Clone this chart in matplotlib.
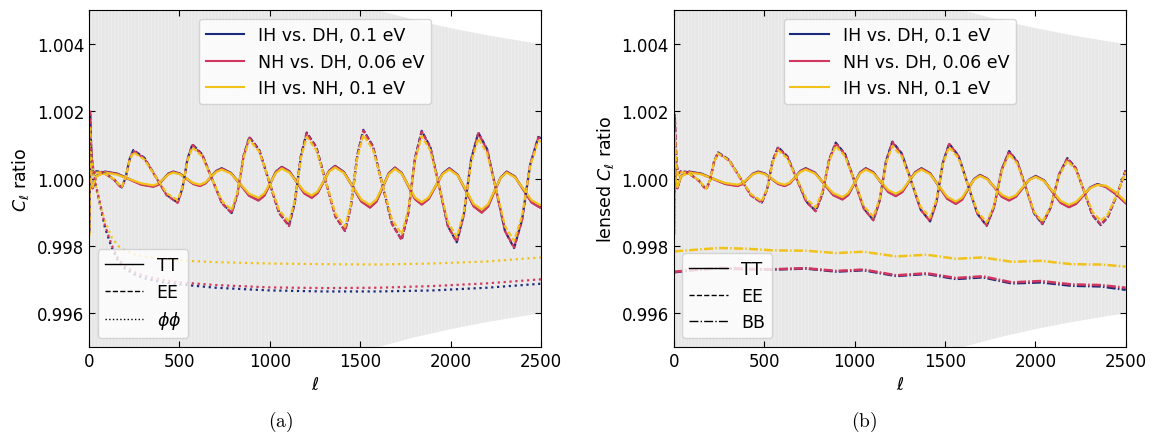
#cl ratio plots, unlensed (a) and lensed (b)
import matplotlib
matplotlib.use('Agg')
import matplotlib.pyplot as plt
from matplotlib.lines import Line2D
from matplotlib.ticker import FormatStrFormatter

labels = ['IH vs. DH, 0.1 eV', 'NH vs. DH, 0.06 eV', 'IH vs. NH, 0.1 eV']
colors = ['#1c2a7c', '#d2365e', '#f0c21a']

#gray band (half width around 1)
l_band = [2, 200, 400, 800, 1200, 1600, 1800, 2000, 2200, 2400, 2500]
band_half = [0.1414, 0.01414, 0.0100, 0.00707, 0.00577, 0.00500, 0.00471, 0.00447, 0.00426, 0.00408, 0.00400]

#panel (a) EE
l_ee_a = [2, 6, 10, 16, 25, 40, 70, 100, 140, 165, 181, 202, 224, 245, 306, 368, 429, 490, 517, 545, 572,
          626, 680, 735, 789, 821, 855, 887, 942, 996, 1051, 1106, 1138, 1172, 1204, 1257, 1310, 1363, 1416,
          1449, 1484, 1517, 1570, 1623, 1676, 1729, 1766, 1803, 1840, 1888, 1937, 1985, 2034, 2073, 2113,
          2153, 2202, 2252, 2301, 2351, 2395, 2440, 2485, 2500]
ee_a_ih_dh = [0.99840, 1.00195, 1.00120, 1.00045, 1.00015, 1.00022, 1.00020, 1.00012, 0.99997, 0.99981,
              0.99974, 1.00002, 1.00057, 1.00085, 1.00062, 1.00007, 0.99952, 0.99929, 0.99972, 1.00059, 1.00102,
              1.00072, 1.00000, 0.99928, 0.99898, 0.99955, 1.00068, 1.00124, 1.00085, 0.99992, 0.99899, 0.99860,
              0.99929, 1.00068, 1.00137, 1.00094, 0.99991, 0.99888, 0.99845, 0.99920, 1.00070, 1.00145,
              1.00097, 0.99982, 0.99866, 0.99818, 0.99899, 1.00061, 1.00142, 1.00094, 0.99977, 0.99859, 0.99811,
              0.99893, 1.00056, 1.00137, 1.00087, 0.99966, 0.99844, 0.99794, 0.99877, 1.00042, 1.00124, 1.00120]
ee_a_nh_dh = [0.99838, 1.00205, 1.00125, 1.00048, 1.00016, 1.00021, 1.00019, 1.00011, 0.99996, 0.99980,
              0.99973, 1.00001, 1.00055, 1.00083, 1.00060, 1.00006, 0.99951, 0.99928, 0.99971, 1.00057, 1.00100,
              1.00070, 0.99999, 0.99927, 0.99897, 0.99954, 1.00066, 1.00122, 1.00083, 0.99991, 0.99898, 0.99859,
              0.99928, 1.00066, 1.00135, 1.00092, 0.99990, 0.99887, 0.99844, 0.99919, 1.00068, 1.00143,
              1.00095, 0.99981, 0.99865, 0.99818, 0.99899, 1.00059, 1.00140, 1.00092, 0.99976, 0.99859, 0.99812,
              0.99893, 1.00054, 1.00135, 1.00085, 0.99965, 0.99844, 0.99796, 0.99878, 1.00041, 1.00122, 1.00118]
ee_a_ih_nh = [0.99830, 1.00150, 1.00090, 1.00035, 1.00010, 1.00018, 1.00018, 1.00011, 0.99998, 0.99983,
              0.99976, 1.00002, 1.00053, 1.00078, 1.00057, 1.00007, 0.99957, 0.99936, 0.99975, 1.00054, 1.00093,
              1.00066, 1.00000, 0.99934, 0.99907, 0.99959, 1.00063, 1.00115, 1.00080, 0.99994, 0.99907, 0.99872,
              0.99935, 1.00061, 1.00124, 1.00085, 0.99991, 0.99896, 0.99857, 0.99925, 1.00062, 1.00130,
              1.00087, 0.99983, 0.99878, 0.99835, 0.99908, 1.00054, 1.00127, 1.00083, 0.99977, 0.99871, 0.99827,
              0.99900, 1.00046, 1.00119, 1.00075, 0.99967, 0.99859, 0.99815, 0.99889, 1.00038, 1.00112, 1.00110]

#panel (a) TT
l_tt_a = [2, 6, 12, 20, 40, 88, 155, 222, 289, 356, 384, 411, 439, 466, 503, 540, 577, 614, 644, 674, 704, 734,
          785, 836, 886, 937, 969, 1002, 1034, 1066, 1108, 1149, 1191, 1232, 1264, 1297, 1329, 1361, 1409, 1458,
          1506, 1554, 1589, 1623, 1658, 1692, 1729, 1766, 1803, 1840, 1878, 1917, 1955, 1993, 2038, 2083, 2127,
          2172, 2207, 2241, 2276, 2310, 2356, 2402, 2448, 2494, 2500]
tt_a_ih_dh = [0.99960, 1.00080, 0.99985, 0.99972, 1.00008, 1.00021,
              1.00015, 0.99999, 0.99983, 0.99977, 0.99983, 0.99999, 1.00015, 1.00021,
              1.00015, 1.00000, 0.99985, 0.99979, 0.99987, 1.00005, 1.00023, 1.00031,
              1.00017, 0.99984, 0.99950, 0.99936, 0.99950, 0.99986, 1.00021, 1.00035,
              1.00022, 0.99990, 0.99957, 0.99944, 0.99958, 0.99991, 1.00024, 1.00038,
              1.00020, 0.99977, 0.99933, 0.99915, 0.99932, 0.99974, 1.00016, 1.00033,
              1.00017, 0.99979, 0.99940, 0.99924, 0.99940, 0.99978, 1.00015, 1.00031,
              1.00012, 0.99966, 0.99919, 0.99900, 0.99918, 0.99961, 1.00003, 1.00021,
              1.00006, 0.99968, 0.99930, 0.99915, 0.99915]
tt_a_nh_dh = [0.99958, 1.00085, 0.99983, 0.99971, 1.00007, 1.00020,
              1.00014, 0.99998, 0.99982, 0.99976, 0.99982, 0.99998, 1.00014, 1.00020,
              1.00014, 0.99999, 0.99984, 0.99978, 0.99986, 1.00004, 1.00022, 1.00030,
              1.00016, 0.99983, 0.99949, 0.99935, 0.99949, 0.99985, 1.00020, 1.00034,
              1.00021, 0.99989, 0.99956, 0.99943, 0.99957, 0.99990, 1.00023, 1.00037,
              1.00019, 0.99976, 0.99932, 0.99914, 0.99931, 0.99973, 1.00015, 1.00032,
              1.00016, 0.99978, 0.99939, 0.99923, 0.99939, 0.99977, 1.00014, 1.00030,
              1.00011, 0.99965, 0.99918, 0.99899, 0.99917, 0.99960, 1.00002, 1.00020,
              1.00005, 0.99967, 0.99929, 0.99914, 0.99914]
tt_a_ih_nh = [0.99965, 1.00070, 0.99988, 0.99975, 1.00007, 1.00018,
              1.00012, 0.99999, 0.99986, 0.99980, 0.99986, 0.99999, 1.00012, 1.00018,
              1.00013, 1.00000, 0.99987, 0.99982, 0.99989, 1.00005, 1.00020, 1.00027,
              1.00015, 0.99985, 0.99955, 0.99943, 0.99956, 0.99987, 1.00017, 1.00030,
              1.00018, 0.99990, 0.99962, 0.99950, 0.99962, 0.99992, 1.00021, 1.00033,
              1.00017, 0.99978, 0.99938, 0.99922, 0.99938, 0.99976, 1.00013, 1.00029,
              1.00015, 0.99980, 0.99944, 0.99930, 0.99944, 0.99979, 1.00013, 1.00027,
              1.00010, 0.99968, 0.99925, 0.99908, 0.99924, 0.99963, 1.00002, 1.00018,
              1.00004, 0.99970, 0.99936, 0.99922, 0.99922]

#panel (a) phi phi
l_pp = [2, 10, 20, 30, 45, 60, 88, 125, 162, 200, 254, 300, 400, 500, 700, 1000, 1300, 1600, 1900, 2200, 2500]
pp_ih_dh = [1.00120, 1.00090, 1.00040, 0.99995, 0.99960, 0.99925, 0.99855, 0.99796, 0.99755, 0.99732, 0.99715,
            0.99705, 0.99693, 0.99686, 0.99676, 0.99668, 0.99665, 0.99665, 0.99668, 0.99676, 0.99688]
pp_nh_dh = [1.00125, 1.00095, 1.00045, 1.00000, 0.99965, 0.99930, 0.99862, 0.99803, 0.99762, 0.99739, 0.99722,
            0.99712, 0.99700, 0.99692, 0.99684, 0.99677, 0.99675, 0.99676, 0.99681, 0.99689, 0.99701]
pp_ih_nh = [1.00100, 1.00075, 1.00035, 0.99995, 0.99964, 0.99924, 0.99875, 0.99826, 0.99800, 0.99786, 0.99775,
            0.99769, 0.99762, 0.99757, 0.99752, 0.99748, 0.99746, 0.99745, 0.99748, 0.99754, 0.99766]

#panel (b) lensed EE
l_ee_b = [2, 6, 10, 16, 25, 40, 70, 100, 140, 165, 180, 201, 223, 245, 306, 366, 427, 487, 517, 547, 577,
          629, 681, 733, 785, 822, 859, 896, 948, 1000, 1052, 1104, 1139, 1174, 1209, 1261, 1314, 1366, 1418,
          1453, 1488, 1523, 1575, 1627, 1679, 1731, 1772, 1814, 1855, 1901, 1947, 1993, 2039, 2085, 2131,
          2177, 2223, 2270, 2316, 2362, 2400, 2450, 2500]
ee_b_ih_dh = [0.99835, 1.00185, 1.00115, 1.00040, 1.00015, 1.00022, 1.00020, 1.00010, 0.99994, 0.99977,
              0.99969, 0.99996, 1.00051, 1.00078, 1.00056, 1.00004, 0.99951, 0.99929, 0.99970, 1.00053, 1.00094,
              1.00066, 0.99999, 0.99932, 0.99904, 0.99955, 1.00056, 1.00107, 1.00073, 0.99992, 0.99911, 0.99877,
              0.99935, 1.00052, 1.00110, 1.00075, 0.99992, 0.99908, 0.99873, 0.99931, 1.00046, 1.00104,
              1.00068, 0.99982, 0.99896, 0.99860, 0.99916, 1.00027, 1.00082, 1.00050, 0.99974, 0.99897, 0.99865,
              0.99914, 1.00012, 1.00061, 1.00032, 0.99962, 0.99891, 0.99862, 0.99885, 0.99950, 1.00025]
ee_b_nh_dh = [0.99833, 1.00190, 1.00118, 1.00042, 1.00016, 1.00021, 1.00019, 1.00009, 0.99993, 0.99976,
              0.99968, 0.99995, 1.00049, 1.00076, 1.00054, 1.00003, 0.99950, 0.99928, 0.99969, 1.00051, 1.00092,
              1.00064, 0.99998, 0.99931, 0.99903, 0.99954, 1.00054, 1.00105, 1.00071, 0.99991, 0.99910, 0.99876,
              0.99934, 1.00050, 1.00108, 1.00073, 0.99991, 0.99908, 0.99873, 0.99931, 1.00045, 1.00103,
              1.00067, 0.99982, 0.99897, 0.99861, 0.99917, 1.00027, 1.00081, 1.00049, 0.99974, 0.99898, 0.99866,
              0.99915, 1.00012, 1.00060, 1.00031, 0.99962, 0.99892, 0.99864, 0.99887, 0.99951, 1.00024]
ee_b_ih_nh = [0.99832, 1.00140, 1.00085, 1.00032, 1.00010, 1.00018, 1.00018, 1.00010, 0.99995, 0.99979,
              0.99970, 0.99996, 1.00049, 1.00075, 1.00054, 1.00004, 0.99954, 0.99933, 0.99971, 1.00047, 1.00085,
              1.00060, 1.00000, 0.99940, 0.99915, 0.99961, 1.00052, 1.00097, 1.00066, 0.99992, 0.99918, 0.99887,
              0.99940, 1.00045, 1.00097, 1.00066, 0.99991, 0.99916, 0.99885, 0.99937, 1.00042, 1.00094,
              1.00061, 0.99982, 0.99903, 0.99870, 0.99921, 1.00022, 1.00073, 1.00044, 0.99973, 0.99901, 0.99872,
              0.99917, 1.00008, 1.00053, 1.00027, 0.99964, 0.99901, 0.99875, 0.99893, 0.99952, 1.00020]

#panel (b) lensed TT
l_tt_b = [2, 6, 12, 20, 40, 85, 152, 218, 285, 352, 381, 410, 439, 468, 505, 541, 578, 614, 643, 672, 701, 730,
          781, 832, 882, 933, 965, 998, 1030, 1062, 1104, 1145, 1187, 1228, 1264, 1299, 1335, 1370, 1418, 1465,
          1513, 1560, 1594, 1627, 1661, 1694, 1734, 1775, 1815, 1855, 1892, 1929, 1965, 2002, 2048, 2094, 2140,
          2186, 2225, 2265, 2304, 2343, 2390, 2445, 2500]
tt_b_ih_dh = [0.99960, 1.00075, 0.99985, 0.99972, 1.00008, 1.00021,
              1.00015, 1.00000, 0.99985, 0.99979, 0.99985, 1.00000, 1.00015, 1.00021,
              1.00015, 1.00000, 0.99985, 0.99979, 0.99987, 1.00005, 1.00023, 1.00031,
              1.00018, 0.99985, 0.99952, 0.99939, 0.99952, 0.99985, 1.00018, 1.00031,
              1.00019, 0.99990, 0.99961, 0.99949, 0.99961, 0.99990, 1.00019, 1.00031,
              1.00016, 0.99979, 0.99941, 0.99926, 0.99938, 0.99969, 0.99999, 1.00011,
              1.00000, 0.99974, 0.99947, 0.99936, 0.99947, 0.99972, 0.99997, 1.00008,
              0.99995, 0.99962, 0.99929, 0.99916, 0.99926, 0.99950, 0.99974, 0.99984,
              0.99976, 0.99955, 0.99928]
tt_b_nh_dh = [0.99958, 1.00080, 0.99983, 0.99971, 1.00007, 1.00020,
              1.00014, 0.99999, 0.99984, 0.99978, 0.99984, 0.99999, 1.00014, 1.00020,
              1.00014, 0.99999, 0.99984, 0.99978, 0.99986, 1.00004, 1.00022, 1.00030,
              1.00017, 0.99984, 0.99951, 0.99938, 0.99951, 0.99984, 1.00017, 1.00030,
              1.00018, 0.99989, 0.99960, 0.99948, 0.99960, 0.99989, 1.00018, 1.00030,
              1.00015, 0.99978, 0.99940, 0.99925, 0.99937, 0.99968, 0.99998, 1.00010,
              0.99999, 0.99973, 0.99946, 0.99935, 0.99946, 0.99971, 0.99996, 1.00007,
              0.99994, 0.99961, 0.99928, 0.99915, 0.99925, 0.99949, 0.99973, 0.99983,
              0.99975, 0.99954, 0.99927]
tt_b_ih_nh = [0.99965, 1.00065, 0.99988, 0.99975, 1.00007, 1.00018,
              1.00013, 1.00000, 0.99987, 0.99982, 0.99987, 1.00000, 1.00013, 1.00018,
              1.00013, 1.00000, 0.99987, 0.99982, 0.99989, 1.00005, 1.00020, 1.00027,
              1.00015, 0.99986, 0.99957, 0.99945, 0.99957, 0.99986, 1.00015, 1.00027,
              1.00016, 0.99991, 0.99966, 0.99955, 0.99966, 0.99991, 1.00016, 1.00027,
              1.00013, 0.99980, 0.99946, 0.99932, 0.99943, 0.99970, 0.99997, 1.00008,
              0.99998, 0.99975, 0.99952, 0.99942, 0.99951, 0.99974, 0.99996, 1.00005,
              0.99993, 0.99964, 0.99934, 0.99922, 0.99931, 0.99952, 0.99972, 0.99981,
              0.99979, 0.99960, 0.99932]

#panel (b) BB
l_bb = [2, 100, 250, 400, 550, 730, 900, 1050, 1230, 1400, 1560, 1710, 1870, 2030, 2200, 2360, 2500]
bb_ih_dh = [0.99722, 0.99728, 0.99734, 0.99731, 0.99730, 0.99733, 0.99724, 0.99728, 0.99711, 0.99717, 0.99702,
            0.99707, 0.99689, 0.99692, 0.99682, 0.99680, 0.99670]
bb_nh_dh = [0.99723, 0.99729, 0.99735, 0.99732, 0.99731, 0.99734, 0.99726, 0.99730, 0.99713, 0.99719, 0.99705,
            0.99710, 0.99692, 0.99696, 0.99686, 0.99684, 0.99676]
bb_ih_nh = [0.99784, 0.99788, 0.99794, 0.99792, 0.99787, 0.99786, 0.99779, 0.99783, 0.99769, 0.99774, 0.99762,
            0.99766, 0.99753, 0.99756, 0.99746, 0.99745, 0.99739]

plt.rcParams['hatch.linewidth'] = 0.5

fig = plt.figure(figsize=(11.62, 4.35), dpi=100)
ax_a = fig.add_axes([0.0766, 0.2, 0.389, 0.774])
ax_b = fig.add_axes([0.5798, 0.2, 0.389, 0.774])

dash_ee = (0, (2.4, 1.0))
dash_ee_shift = (1.7, (2.4, 1.0))
dash_bb = (0, (3.6, 0.9, 0.6, 0.9))

panels = [
    (ax_a, l_tt_a, [tt_a_ih_dh, tt_a_nh_dh, tt_a_ih_nh], l_ee_a, [ee_a_ih_dh, ee_a_nh_dh, ee_a_ih_nh],
     l_pp, [pp_ih_dh, pp_nh_dh, pp_ih_nh], ':', r'$\phi\phi$', r'$C_\ell$ ratio'),
    (ax_b, l_tt_b, [tt_b_ih_dh, tt_b_nh_dh, tt_b_ih_nh], l_ee_b, [ee_b_ih_dh, ee_b_nh_dh, ee_b_ih_nh],
     l_bb, [bb_ih_dh, bb_nh_dh, bb_ih_nh], dash_bb, 'BB', r'lensed $C_\ell$ ratio'),
]

for ax, l_tt, tt, l_ee, ee, l_3, third, ls3, name3, ylab in panels:
    #cosmic variance like band
    lo = [1 - h for h in band_half]
    hi = [1 + h for h in band_half]
    ax.fill_between(l_band, lo, hi, facecolor='#e7e7e7', edgecolor='#f1f1f1', hatch='|||||', linewidth=0, zorder=0)

    for i in range(3):
        ax.plot(l_tt, tt[i], color=colors[i], lw=1.6, ls='-', zorder=2)
    ee_styles = [dash_ee, dash_ee_shift, dash_ee]
    for i in range(3):
        ax.plot(l_ee, ee[i], color=colors[i], lw=1.6, ls=ee_styles[i], zorder=2)
    for i in range(3):
        ax.plot(l_3, third[i], color=colors[i], lw=1.6 if ls3 == ':' else 1.8, ls=ls3, zorder=2)

    ax.set_xlim(0, 2500)
    ax.set_ylim(0.995, 1.005)
    ax.set_xticks([0, 500, 1000, 1500, 2000, 2500])
    ax.set_yticks([0.996, 0.998, 1.000, 1.002, 1.004])
    ax.yaxis.set_major_formatter(FormatStrFormatter('%.3f'))
    ax.tick_params(direction='in', top=True, right=True, length=4, labelsize=12)
    ax.set_xlabel(r'$\ell$', fontsize=12.5)
    ax.set_ylabel(ylab, fontsize=12.5)

    #legends
    h1 = [Line2D([], [], color=c, lw=1.5) for c in colors]
    leg1 = ax.legend(h1, labels, loc='upper center', fontsize=12.5, handlelength=2.2)
    ax.add_artist(leg1)
    h2 = [Line2D([], [], color='k', lw=1, ls='-'),
          Line2D([], [], color='k', lw=1, ls='--'),
          Line2D([], [], color='k', lw=1, ls=ls3 if ls3 == ':' else '-.')]
    ax.legend(h2, ['TT', 'EE', name3], loc='lower left', fontsize=12.5, handlelength=2.2)

fig.text(0.241, 0.03, r'$\mathrm{(a)}$', fontsize=14, ha='center', va='center', math_fontfamily='cm')
fig.text(0.744, 0.03, r'$\mathrm{(b)}$', fontsize=14, ha='center', va='center', math_fontfamily='cm')

fig.savefig('out.png', dpi=100)
